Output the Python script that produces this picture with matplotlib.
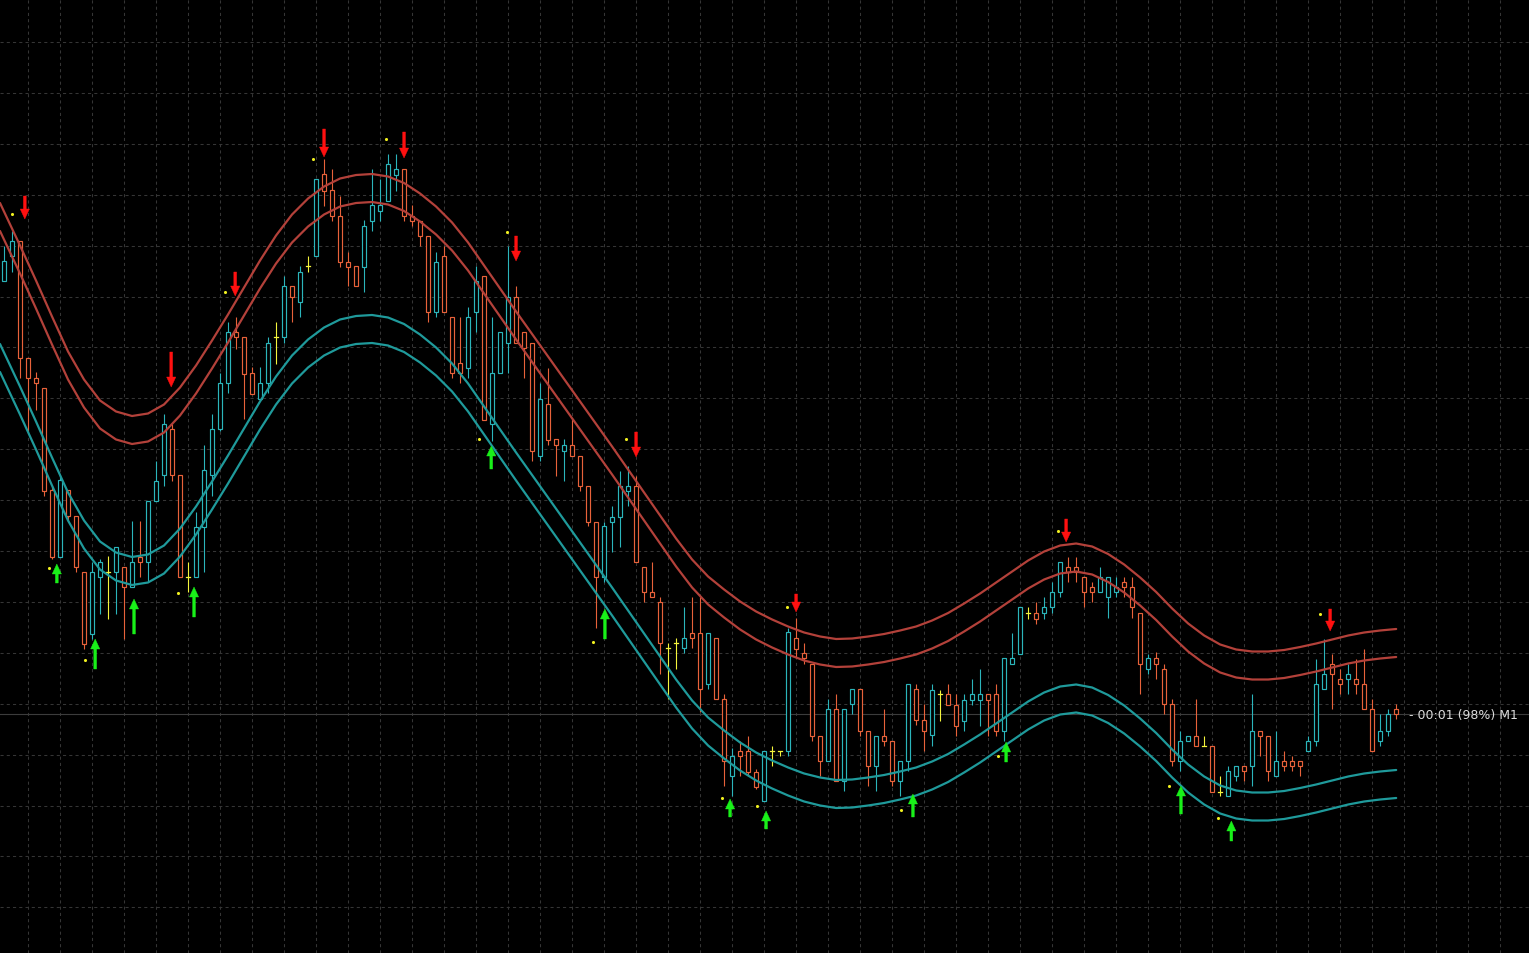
import numpy as np
import matplotlib
matplotlib.use("Agg")
import matplotlib.pyplot as plt
from matplotlib.patches import Rectangle, Polygon

# ---------------- data (price levels measured on the chart, axis inverted) ----------------
open_ = [282,257,242,359,379,389,491,558,491,517, 573,635,578,573,573,568,588,558,563,502,
         476,430,476,578,578,528,476,430,384,333, 338,374,400,384,338,338,287,303,267,257,
         175,191,217,263,267,268,222,212,202,176, 170,217,222,237,313,257,318,364,369,313,
         277,425,374,344,298,333,344,457,405,440, 452,446,457,487,523,578,523,518,492,487,
         568,593,603,649,644,649,634,634,685,639, 700,777,752,752,773,802,752,752,752,639,
         654,665,737,762,710,782,705,690,732,767, 737,742,782,762,690,721,736,695,695,706,
         722,701,701,695,695,732,665,655,614,614, 614,608,593,568,568,578,588,593,598,593,
         583,588,614,670,659,670,705,762,742,737, 747,747,793,797,777,767,767,732,737,777,
         762,762,762,752,742,690,665,680,680,680, 685,710,742,732,710]
high = [247,232,242,359,373,389,487,476,491,517, 573,563,560,557,548,568,522,522,502,462,
        415,425,476,563,513,446,415,374,323,318, 338,368,368,338,323,277,287,267,257,180,
        160,170,197,253,267,221,170,180,155,155, 170,206,222,237,253,247,318,318,308,267,
        277,318,333,247,287,333,344,384,369,440, 440,420,457,487,523,523,507,472,467,477,
        568,563,598,644,639,608,598,598,634,639, 695,749,742,737,770,752,747,752,629,619,
        644,665,737,700,695,710,690,690,732,737, 710,742,762,685,685,705,685,691,685,695,
        695,680,670,695,685,659,634,608,608,603, 598,583,563,558,558,578,583,568,578,578,
        578,578,614,655,653,665,700,732,737,700, 737,747,777,767,767,767,695,732,737,732,
        752,757,762,737,660,640,655,670,665,660, 650,700,715,710,705]
low = [282,273,379,433,411,497,560,558,523,573, 650,640,615,620,615,640,588,578,583,502,
       487,482,578,593,578,573,497,432,394,350, 420,395,400,394,365,344,323,318,273,257,
       207,222,268,287,287,293,232,222,202,192, 222,227,247,323,318,313,379,384,379,333,
       421,442,374,374,344,379,462,462,446,477, 482,457,492,527,629,583,553,548,507,563,
       603,598,675,700,670,654,649,713,690,700, 787,797,777,777,790,802,767,757,757,659,
       665,742,777,762,782,792,715,737,787,792, 747,787,797,772,726,752,747,722,706,737,
       732,706,727,737,737,742,665,655,620,625, 620,614,598,583,583,608,603,593,619,598,
       598,619,695,675,680,715,767,772,742,747, 747,793,797,797,782,782,787,757,782,777,
       772,772,777,752,747,690,710,695,695,695, 710,752,747,737,720]
close = [262,242,359,379,384,492,558,481,517,568, 645,573,563,573,548,588,563,563,502,482,
         425,476,578,578,528,471,430,384,333,338, 375,395,384,344,338,287,298,273,267,180,
         192,217,263,268,287,227,206,206,165,170, 217,222,237,313,263,313,374,374,318,282,
         421,374,333,298,344,349,452,400,441,446, 446,457,487,523,578,527,518,487,487,563,
         593,598,644,649,644,639,639,690,634,700, 762,757,757,773,788,752,752,752,633,650,
         659,737,762,710,782,710,690,732,767,737, 742,782,762,685,721,732,691,695,706,727,
         701,695,695,701,732,659,659,608,614,620, 608,593,563,573,573,593,593,578,578,588,
         588,608,665,659,665,705,762,742,737,747, 747,793,793,772,767,772,732,737,772,762,
         767,767,767,742,685,675,675,685,675,685, 710,752,732,715,715]

# band centre line, read every second candle
band_idx = [-0.5] + list(range(0, 175, 2))
band_mid = [288.5,
            297, 331, 366, 402, 437, 465, 486, 497, 501.5, 499,
            490, 473, 451, 426, 400, 373, 346, 321, 300, 284,
            272, 264, 260.5, 259.5, 262, 268.5, 279, 292, 308, 328,
            351, 374, 397, 419.5, 442, 464.5, 487, 509.5, 532, 555,
            578, 601, 624, 645, 662, 675, 687, 697, 705, 712,
            718, 722, 724.5, 724, 722, 719.5, 716, 712, 706, 698.5,
            689, 679, 668, 657, 646, 637, 631, 629, 632, 639.5,
            650, 663, 677.5, 694, 709, 721, 730, 735, 737, 737,
            735.5, 732.5, 729, 725, 721, 718, 716, 714.5]
band_inner = 56.5   # half-distance of inner band lines
band_outer = 84.5   # half-distance of outer band lines

# sell arrows (x in candle index, tail level, tip level)
sell_x    = [2.6, 20.9, 28.9, 40, 50, 64, 79, 99, 132.75, 165.75]
sell_tail = [197, 353, 273, 130, 133, 237, 433, 595, 520, 610]
sell_tip  = [220, 388, 297, 158, 159, 262, 458, 613, 543, 632]
# buy arrows
buy_x    = [6.6, 11.4, 16.25, 23.75, 60.9, 75.1, 90.75, 95.25, 113.6, 125.25, 147.1, 153.4]
buy_tail = [584, 670, 635, 618, 470, 640, 818, 830, 818, 763, 815, 842]
buy_tip  = [565, 640, 600, 588, 447, 610, 800, 812, 795, 743, 787, 822]
# small signal dots
dot_x = [1.0, 27.6, 38.6, 47.75, 62.9, 77.75, 97.9, 131.75, 164.5,
         5.6, 10.1, 21.75, 59.4, 73.6, 89.75, 94.1, 112.1, 124.25, 145.6, 151.75]
dot_y = [215, 293, 160, 140, 233, 440, 608, 532, 615,
         569, 661, 594, 440, 643, 799, 807, 811, 757, 787, 819]

timer_label = "- 00:01 (98%) M1"

# ---------------- styling ----------------
BG = "#000000"
BULL = "#2bb5bb"
BEAR = "#e8623a"
DOJI = "#f4f43c"
RED_BAND = "#b3413a"
TEAL_BAND = "#1f9a9b"
SELL = "#ff1010"
BUY = "#19f019"
GRID = "#353535"

fig = plt.figure(figsize=(15.29, 9.54), dpi=100, facecolor=BG)
ax = fig.add_axes([0, 0, 1, 1])
ax.set_facecolor(BG)
ax.set_xlim(-0.5, 190.6)
ax.set_ylim(954, 0)
for s in ax.spines.values():
    s.set_visible(False)
ax.set_xticks(np.arange(3, 191, 4))
ax.set_yticks(np.arange(43, 954, 50.9))
ax.tick_params(length=0, labelbottom=False, labelleft=False)
ax.grid(True, color=GRID, linestyle=(0, (3, 3)), linewidth=0.75)
ax.set_axisbelow(True)

# current price line
ax.axhline(close[-1], color="#3c3c3c", lw=0.8, zorder=1)

# bands
mid = np.array(band_mid)
kw = dict(lw=1.6, zorder=4, solid_joinstyle="round", solid_capstyle="round")
ax.plot(band_idx, mid - band_outer, color=RED_BAND, **kw)
ax.plot(band_idx, mid - band_inner, color=RED_BAND, **kw)
ax.plot(band_idx, mid + band_inner, color=TEAL_BAND, **kw)
ax.plot(band_idx, mid + band_outer, color=TEAL_BAND, **kw)

# candles
bw = 0.55
for i, (o, h, l, c) in enumerate(zip(open_, high, low, close)):
    if c < o:
        col = BULL
    elif c > o:
        col = BEAR
    else:
        col = DOJI
    ax.plot([i, i], [h, l], color=col, lw=0.8, zorder=2, solid_capstyle="butt")
    if o == c:
        ax.plot([i - bw / 2, i + bw / 2], [o, o], color=col, lw=0.9, zorder=3)
    else:
        top, bot = min(o, c), max(o, c)
        ax.add_patch(Rectangle((i - bw / 2, top), bw, bot - top, facecolor=BG,
                               edgecolor=col, lw=0.85, zorder=3))

# arrows
sh, hh, hl = 1.4 / 8, 4.6 / 8, 10.0


def arrow(x, tail, tip, color):
    d = 1 if tip > tail else -1
    base = tip - d * hl
    pts = [(x - sh, tail), (x + sh, tail), (x + sh, base), (x + hh, base),
           (x, tip), (x - hh, base), (x - sh, base)]
    ax.add_patch(Polygon(pts, closed=True, facecolor=color, edgecolor=color,
                         lw=0.3, zorder=6))


for x, t, p in zip(sell_x, sell_tail, sell_tip):
    arrow(x, t, p, SELL)
for x, t, p in zip(buy_x, buy_tail, buy_tip):
    arrow(x, t, p, BUY)

ax.scatter(dot_x, dot_y, s=5, color="#f0f020", zorder=6, linewidths=0)

ax.text(175.6, close[-1] + 1, timer_label, color="#dcdcdc", fontsize=9,
        family="DejaVu Sans", va="center", ha="left", zorder=7)

fig.savefig("out.png", dpi=100, facecolor=BG)
